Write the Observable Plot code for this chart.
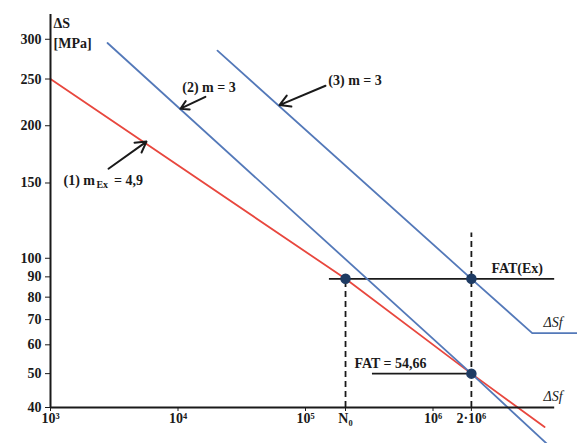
<!DOCTYPE html>
<html><head><meta charset="utf-8">
<script src="https://cdn.jsdelivr.net/npm/d3@7"></script>
<script src="https://cdn.jsdelivr.net/npm/@observablehq/plot@0.6"></script>
<style>body{margin:0;background:#fff;} svg{display:block}</style>
</head><body><div id="chart"></div>
<script>
// axis ticks
const yTicks = [40, 50, 60, 70, 80, 90, 100, 150, 200, 250, 300];
const xTickValues = [1e3, 1e4, 1e5, 2.06e5, 1e6, 2e6];
const xTickLabels = ["10³", "10⁴", "10⁵", "N₀", "10⁶", "2·10⁶"];
const xMin = 1e3, xMax = 1.359e7, xAxisEnd = 9e6;
const yMin = 40, yMax = 335;

// S-N curves (N cycles, ΔS MPa)
const curve1N = [1e3, 2.06e5, 2e6, 7.5e6];
const curve1S = [250, 89, 50, 35];
const curve2N = [2.8e3, 2e6, 8.05e6];
const curve2S = [295, 50, 30.8];
const curve3N = [2.04e4, 2e6, 6e6, 1.359e7];
const curve3S = [285, 89, 64.5, 64.5];

// marked points
const dotN = [2.06e5, 2e6, 2e6];
const dotS = [89, 89, 50];

// dashed verticals
const dashN = [2.06e5, 2e6];
const dashTop = [89, 115];

// horizontal reference levels
const hLevel = [89, 50];
const hFrom = [1.54e5, 3.35e5];
const hTo = [9e6, 2e6];

// annotation arrows
const arrowFromN = [2.85e3, 1.64e4, 1.435e5];
const arrowFromS = [161.4, 229.9, 242.2];
const arrowToN = [5.66e3, 1.046e4, 6.25e4];
const arrowToS = [185, 217.2, 221];

const red = "#e8473e", blue = "#5479b9", navy = "#1e3b63", ink = "#1a1a1a";
const pts = (N, S) => N.map((n, i) => ({n, s: S[i]}));
const serif = "'Liberation Serif', 'DejaVu Serif', serif";

const chart = Plot.plot({
  width: 577, height: 443,
  marginLeft: 50, marginRight: 0, marginTop: 14, marginBottom: 36,
  style: {fontFamily: serif, fontSize: "14px", fontWeight: "bold", background: "#fff", color: ink},
  x: {type: "log", domain: [xMin, xMax], ticks: xTickValues,
      tickFormat: d => xTickLabels[xTickValues.indexOf(d)], tickSize: 4, tickPadding: 2, label: null},
  y: {type: "pow", exponent: 0.2, domain: [yMin, yMax], ticks: yTicks,
      tickFormat: d => String(d), tickSize: 5, tickPadding: 4, label: null},
  marks: [
    Plot.ruleY(hLevel.map((s, i) => ({s, a: hFrom[i], b: hTo[i]})), {y: "s", x1: "a", x2: "b", stroke: ink, strokeWidth: 1.8}),
    Plot.ruleX(dashN.map((n, i) => ({n, a: yMin, b: dashTop[i]})), {x: "n", y1: "a", y2: "b", stroke: ink, strokeWidth: 1.8, strokeDasharray: "6,4"}),
    Plot.line(pts(curve1N, curve1S), {x: "n", y: "s", stroke: red, strokeWidth: 1.8}),
    Plot.line(pts(curve2N, curve2S), {x: "n", y: "s", stroke: blue, strokeWidth: 1.8}),
    Plot.line(pts(curve3N, curve3S), {x: "n", y: "s", stroke: blue, strokeWidth: 1.8}),
    Plot.ruleX([{n: xMin, a: yMin, b: yMax}], {x: "n", y1: "a", y2: "b", stroke: ink, strokeWidth: 2}),
    Plot.ruleY([{s: yMin, a: xMin, b: xAxisEnd}], {y: "s", x1: "a", x2: "b", stroke: ink, strokeWidth: 2}),
    Plot.dot(pts(dotN, dotS), {x: "n", y: "s", r: 4.5, fill: navy, stroke: navy}),
    Plot.arrow(arrowFromN.map((n, i) => ({n1: n, s1: arrowFromS[i], n2: arrowToN[i], s2: arrowToS[i]})),
      {x1: "n1", y1: "s1", x2: "n2", y2: "s2", stroke: ink, strokeWidth: 2, headLength: 9}),
    // axis title
    Plot.text([{n: xMin, s: 322, t: "ΔS"}, {n: xMin, s: 294, t: "[MPa]"}],
      {x: "n", y: "s", text: "t", textAnchor: "start", dx: 3, fontSize: 14, fontWeight: "bold", fill: ink}),
    // curve labels
    Plot.text([{n: 1.265e3, s: 152, t: "(1) m"}, {n: 3.15e3, s: 152, t: "= 4,9"},
               {n: 1.08e4, s: 240, t: "(2) m = 3"}, {n: 1.51e5, s: 248, t: "(3) m = 3"}],
      {x: "n", y: "s", text: "t", textAnchor: "start", fontSize: 14, fontWeight: "bold", fill: ink}),
    Plot.text([{n: 2.29e3, s: 152, t: "Ex"}],
      {x: "n", y: "s", text: "t", textAnchor: "start", dy: 4, fontSize: 10, fontWeight: "bold", fill: ink}),
    Plot.text([{n: 2e6, s: 89, t: "FAT(Ex)"}],
      {x: "n", y: "s", text: "t", textAnchor: "start", dx: 20, dy: -10, fontSize: 14, fontWeight: "bold", fill: ink}),
    Plot.text([{n: 2.42e5, s: 50, t: "FAT = 54,66"}],
      {x: "n", y: "s", text: "t", textAnchor: "start", dy: -10, fontSize: 14, fontWeight: "bold", fill: ink}),
    Plot.text([{n: 7.37e6, s: 64.5, t: "ΔSf"}, {n: 7.37e6, s: 40, t: "ΔSf"}],
      {x: "n", y: "s", text: "t", textAnchor: "start", dy: -11, fontSize: 14, fontStyle: "italic", fontWeight: "normal", fill: ink})
  ]
});
document.getElementById("chart").appendChild(chart);
</script>
</body></html>
